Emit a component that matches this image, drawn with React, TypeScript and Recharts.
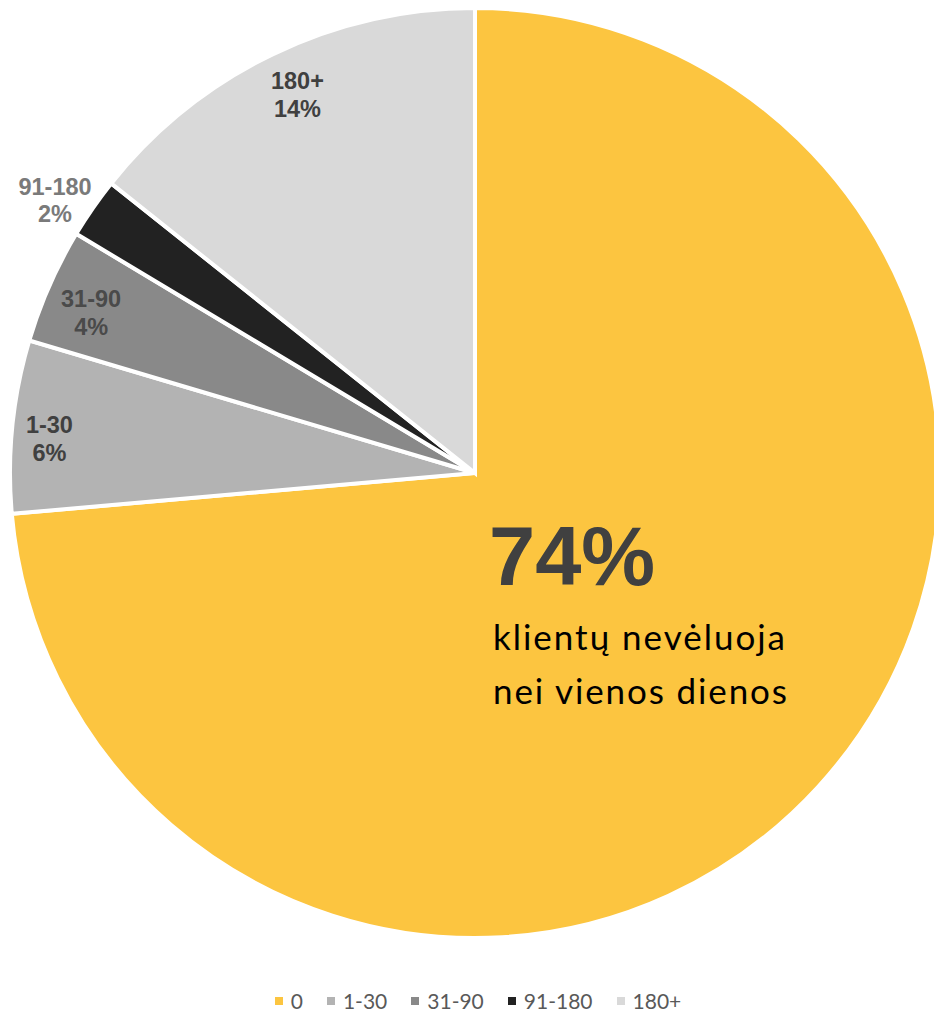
import React from "react";
import { PieChart, Pie, Cell, Legend } from "recharts";

const categories = ["0", "1-30", "31-90", "91-180", "180+"];
const shares = [73.6, 6.0, 4.0, 2.1, 14.3];
const colors = ["#fcc540", "#b3b3b3", "#898989", "#222222", "#d9d9d9"];
const headline = ["klientų nevėluoja", "nei vienos dienos"];

// label radius / angle nudge (deg) per slice, to sit like the Excel best-fit labels
const labelSpots: Record<string, { r: number; shift: number; color: string }> = {
  "1-30": { r: 427, shift: 1.1, color: "#404040" },
  "31-90": { r: 416, shift: 1.1, color: "#4a4a4a" },
  "91-180": { r: 501, shift: 1.7, color: "#7a7a7a" },
  "180+": { r: 418, shift: -0.6, color: "#404040" },
};

const data = categories.map((name, i) => ({ name, value: shares[i] }));

const RAD = Math.PI / 180;

function renderLabel(props: any) {
  const { cx, cy, midAngle, percent, index, name } = props;
  const pct = `${Math.round(percent * 100)}%`;

  if (index === 0) {
    return (
      <g>
        <text
          x={cx + 14}
          y={cy + 112}
          fill="#404040"
          fontFamily="'Liberation Sans', Arial, sans-serif"
          fontWeight="bold"
          fontSize={83}
        >
          {pct}
        </text>
        {headline.map((line, i) => (
          <text
            key={line}
            x={cx + 18}
            y={cy + 177 + i * 54}
            fill="#000"
            fontFamily="Lato, sans-serif"
            fontSize={35}
            textLength={i === 0 ? 292 : 294}
            lengthAdjust="spacing"
          >
            {line}
          </text>
        ))}
      </g>
    );
  }

  const spot = labelSpots[name];
  const a = (midAngle + spot.shift) * RAD;
  const x = cx + spot.r * Math.cos(a);
  const y = cy - spot.r * Math.sin(a);

  return (
    <text
      x={x}
      y={y - 5.25}
      textAnchor="middle"
      fill={spot.color}
      fontFamily="'Liberation Sans', Arial, sans-serif"
      fontWeight="bold"
      fontSize={23.5}
    >
      <tspan x={x}>{name}</tspan>
      <tspan x={x} dy={27.5}>
        {pct}
      </tspan>
    </text>
  );
}

function renderLegend() {
  return (
    <div
      style={{
        display: "flex",
        justifyContent: "center",
        alignItems: "center",
        height: 20,
        lineHeight: "20px",
        paddingLeft: 22,
        fontFamily: "Lato, sans-serif",
        fontSize: 21,
        color: "#595959",
      }}
    >
      {categories.map((name, i) => (
        <div
          key={name}
          style={{
            display: "flex",
            alignItems: "center",
            marginRight: i === categories.length - 1 ? 0 : 24,
          }}
        >
          <span
            style={{
              width: 8,
              height: 8,
              background: colors[i],
              marginRight: 8,
              display: "inline-block",
            }}
          />
          <span>{name}</span>
        </div>
      ))}
    </div>
  );
}

export default function App() {
  return (
    <div style={{ position: "absolute", left: 0, top: 0, width: 934, height: 1011, background: "#fff" }}>
      <PieChart width={934} height={1011} margin={{ top: 0, right: 0, bottom: 0, left: 0 }}>
        <Pie
          data={data}
          dataKey="value"
          nameKey="name"
          cx={475}
          cy={473}
          outerRadius={465}
          startAngle={90}
          endAngle={-270}
          stroke="#fff"
          strokeWidth={4}
          label={renderLabel}
          labelLine={false}
          isAnimationActive={false}
        >
          {data.map((d, i) => (
            <Cell key={d.name} fill={colors[i]} />
          ))}
        </Pie>
        <Legend
          content={renderLegend}
          wrapperStyle={{ left: 0, top: 991, width: 934, bottom: "auto" }}
        />
      </PieChart>
    </div>
  );
}
